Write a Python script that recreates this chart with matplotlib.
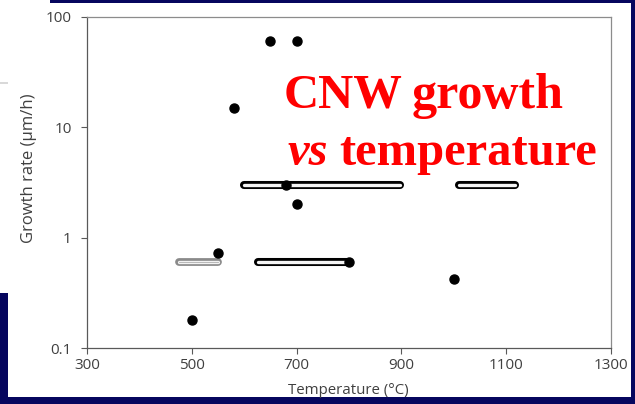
import matplotlib.pyplot as plt
import matplotlib.patches as mpatches
import numpy as np

# single growth-rate measurements (temperature in C, rate in um/h)
pt_temp = [650, 700, 580, 680, 700, 550, 800, 500, 1000]
pt_rate = [60, 60, 15, 3, 2, 0.72, 0.6, 0.18, 0.42]

# temperature ranges reported with one growth rate
rng_lo = [600, 1010, 627]
rng_hi = [898, 1117, 800]
rng_rate = [3, 3, 0.6]

# grey range
grey_lo = [475]
grey_hi = [550]
grey_rate = [0.6]

navy = '#06065e'
W, H = 635, 404

fig = plt.figure(figsize=(6.35, 4.04), dpi=100)
fig.patch.set_facecolor(navy)


def px_rect(x0, y0, x1, y1, **kw):
    # rectangle given in pixel coordinates from the top-left corner
    r = mpatches.Rectangle((x0 / W, 1 - y1 / H), (x1 - x0) / W, (y1 - y0) / H,
                           transform=fig.transFigure, linewidth=0, zorder=-5, **kw)
    fig.patches.append(r)


px_rect(0, 3, 631, 397, facecolor='white')
px_rect(0, 0, 50, 3, facecolor='white')
px_rect(0, 3, 8, 293, facecolor='white')
px_rect(0, 293, 8, 404, facecolor=navy)
px_rect(0, 82, 8, 84, facecolor='#d9d9d9')

ax = fig.add_axes([87 / W, 1 - 348 / H, (611 - 87) / W, (348 - 17) / H])
ax.set_zorder(2)
ax.set_facecolor('white')
ax.set_yscale('log')
ax.set_xlim(300, 1300)
ax.set_ylim(0.1, 100)

# ranges drawn as pills: thick dark stroke with a light core
for lo, hi, r in zip(grey_lo, grey_hi, grey_rate):
    ax.plot([lo, hi], [r, r], color='#8a8a8a', lw=5.6, solid_capstyle='round', zorder=2)
    ax.plot([lo, hi], [r, r], color='#f2f2f2', lw=2.4, solid_capstyle='round', zorder=2)
    ax.plot([lo, hi], [r, r], color='#b0b0b0', lw=0.6, zorder=2)
for lo, hi, r in zip(rng_lo, rng_hi, rng_rate):
    ax.plot([lo, hi], [r, r], color='black', lw=5.8, solid_capstyle='round', zorder=3)
    ax.plot([lo, hi], [r, r], color='#f4f4f4', lw=2.4, solid_capstyle='round', zorder=3)

ax.plot(pt_temp, pt_rate, 'o', color='black', ms=6.5, zorder=4, linestyle='none')

ax.set_xticks(np.arange(300, 1301, 200))
ax.set_yticks([0.1, 1, 10, 100])
ax.set_yticklabels(['0.1', '1', '10', '100'])
ax.minorticks_off()
ax.tick_params(axis='both', labelsize=11, labelcolor='#404040', color='#595959',
               length=4, width=0.8)
ax.tick_params(axis='y', pad=7)
ax.tick_params(axis='x', pad=3)
for s in ['left', 'bottom']:
    ax.spines[s].set_color('#595959')
    ax.spines[s].set_linewidth(0.9)
for s in ['top', 'right']:
    ax.spines[s].set_color('#8c8c8c')
    ax.spines[s].set_linewidth(0.9)

font = 'Open Sans'
for lab in ax.get_xticklabels() + ax.get_yticklabels():
    lab.set_fontfamily(font)

fig.text(348 / W, 1 - 391 / H, 'Temperature (°C)', ha='center', va='center',
         fontsize=10.8, color='#404040', family=font, zorder=3)
fig.text(29 / W, 1 - 168 / H, 'Growth rate (\u00b5m/h)', ha='center', va='center',
         rotation=90, fontsize=12, color='#404040', family=font, zorder=3)

red = '#ff0000'
serif = 'Liberation Serif'
fig.text(284 / W, 1 - 108 / H, 'CNW', ha='left', va='baseline', fontsize=35,
         fontweight='bold', color=red, family=serif, zorder=5)
fig.text(412 / W, 1 - 108 / H, 'growth', ha='left', va='baseline', fontsize=36,
         fontweight='bold', color=red, family=serif, zorder=5)
fig.text(288 / W, 1 - 165 / H, 'vs', ha='left', va='baseline', fontsize=35,
         fontweight='bold', fontstyle='italic', color=red, family=serif, zorder=5)
fig.text(339 / W, 1 - 165 / H, 'temperature', ha='left', va='baseline', fontsize=35,
         fontweight='bold', color=red, family=serif, zorder=5)

fig.savefig('out.png', dpi=100, facecolor=fig.get_facecolor())
